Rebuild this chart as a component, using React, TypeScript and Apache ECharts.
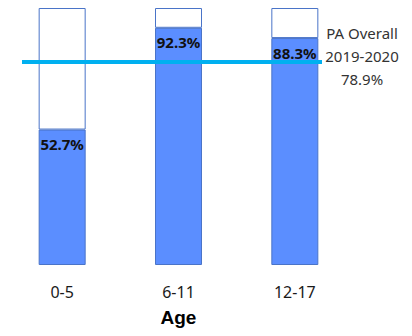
import React, { useEffect, useRef } from "react";
import * as echarts from "echarts";

const categories = ["0-5", "6-11", "12-17"];
const rates = [52.7, 92.3, 88.3];
const fullScale = 100;
const overallRate = 78.9;
const overallLabel = ["PA Overall", "2019-2020", "78.9%"];
const axisTitle = "Age";

const remainder = rates.map((v) => +(fullScale - v).toFixed(1));

export default function App() {
  const ref = useRef<HTMLDivElement>(null);

  useEffect(() => {
    if (!ref.current) return;
    const chart = echarts.init(ref.current, null, { renderer: "svg" });
    chart.setOption({
      animation: false,
      grid: { left: 4, right: 59, top: 8, bottom: 71 },
      xAxis: {
        type: "category",
        data: categories,
        axisLine: { show: false },
        axisTick: { show: false },
        axisLabel: {
          fontFamily: "Noto Sans",
          fontSize: 16,
          color: "#1a1a1a",
          margin: 19,
        },
        name: axisTitle,
        nameLocation: "middle",
        nameGap: 43,
        nameTextStyle: {
          fontFamily: "Liberation Sans",
          fontWeight: "bold",
          fontSize: 19,
          color: "#000",
        },
      },
      yAxis: {
        type: "value",
        min: 0,
        max: fullScale,
        show: false,
        splitLine: { show: false },
      },
      series: [
        {
          type: "bar",
          stack: "total",
          data: rates,
          barWidth: 47,
          itemStyle: { color: "#5b8eff", borderColor: "#4a74c8", borderWidth: 1 },
          label: {
            show: true,
            position: "insideTop",
            distance: 7,
            formatter: (p: any) => `${p.value}%`,
            fontFamily: "Noto Sans",
            fontWeight: "bold",
            fontSize: 15,
            color: "#111",
          },
          markLine: {
            symbol: "none",
            silent: true,
            lineStyle: { color: "#00b0f0", width: 4, type: "solid" },
            label: {
              show: true,
              position: "end",
              distance: 40,
              align: "center",
              offset: [0, -6],
              formatter: overallLabel.join("\n"),
              fontFamily: "Noto Sans",
              fontSize: 15,
              lineHeight: 23,
              color: "#333",
            },
            data: [
              [
                { x: 22, yAxis: overallRate },
                { x: 322, yAxis: overallRate },
              ],
            ],
          },
          z: 2,
        },
        {
          type: "bar",
          stack: "total",
          data: remainder,
          barWidth: 47,
          itemStyle: { color: "#ffffff", borderColor: "#4a74c8", borderWidth: 1 },
          z: 1,
        },
      ],
    });
    return () => chart.dispose();
  }, []);

  return <div ref={ref} style={{ width: 412, height: 336, margin: -8 }} />;
}
